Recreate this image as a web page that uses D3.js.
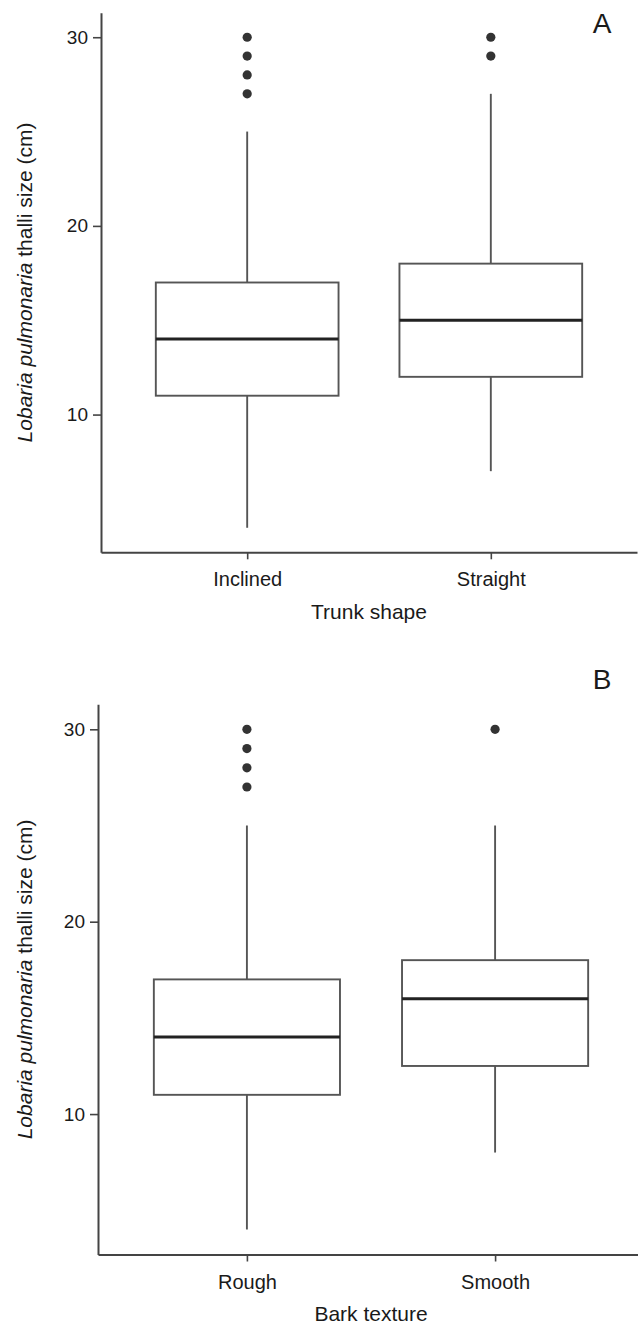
<!DOCTYPE html>
<html>
<head>
<meta charset="utf-8">
<script src="https://cdn.jsdelivr.net/npm/d3@7"></script>
<style>
  body { margin: 0; background: #fff; }
  text { font-family: 'Liberation Sans', Arial, sans-serif; fill: #1a1a1a; }
</style>
</head>
<body>
<div id="container"></div>
<script>
// Panel A: trunk shape
const trunkCats = ['Inclined', 'Straight'];
const trunkLow = [4, 7];
const trunkQ1 = [11, 12];
const trunkMedian = [14, 15];
const trunkQ3 = [17, 18];
const trunkHigh = [25, 27];
const trunkOutliers = [[27, 28, 29, 30], [29, 30]];

// Panel B: bark texture
const barkCats = ['Rough', 'Smooth'];
const barkLow = [4, 8];
const barkQ1 = [11, 12.5];
const barkMedian = [14, 16];
const barkQ3 = [17, 18];
const barkHigh = [25, 25];
const barkOutliers = [[27, 28, 29, 30], [30]];

const yTicks = [10, 20, 30];
const yDomain = [2.7, 31.3];

const w = 638;
const h = 1324;

const svg = d3.select('#container')
  .append('svg')
    .attr('width', w)
    .attr('height', h)
    .attr('viewBox', [0, 0, w, h]);

function drawPanel(box, cats, low, q1, med, q3, high, outliers, xTitle, tag) {
  const x = d3.scalePoint()
    .domain(cats)
    .range([box.left, box.right])
    .padding(0.6);

  const y = d3.scaleLinear()
    .domain(yDomain)
    .range([box.bottom, box.top]);

  const bw = x.step() * 0.75;
  const g = svg.append('g');

  const rows = cats.map((c, i) => ({
    cat: c, low: low[i], q1: q1[i], med: med[i], q3: q3[i], high: high[i], out: outliers[i]
  }));

  // axes
  const xAxis = g.append('g')
    .attr('transform', 'translate(0, ' + box.bottom + ')')
    .call(d3.axisBottom(x).tickSize(7).tickSizeOuter(0).tickPadding(13));

  const yAxis = g.append('g')
    .attr('transform', 'translate(' + box.left + ', 0)')
    .call(d3.axisLeft(y).tickValues(yTicks).tickSize(8).tickSizeOuter(0).tickPadding(5));

  [xAxis, yAxis].forEach(a => {
    a.select('.domain').attr('stroke', '#444').attr('stroke-width', 2);
    a.selectAll('.tick line').attr('stroke', '#444').attr('stroke-width', 1.6);
    a.selectAll('.tick text').style('font-size', '19px').attr('fill', '#1a1a1a');
  });
  xAxis.selectAll('.tick text').style('font-size', '20px');

  // whiskers
  const bx = g.selectAll('.box')
    .data(rows)
    .enter()
    .append('g');

  bx.append('line')
    .attr('x1', d => x(d.cat))
    .attr('x2', d => x(d.cat))
    .attr('y1', d => y(d.q3))
    .attr('y2', d => y(d.high))
    .attr('stroke', '#555')
    .attr('stroke-width', 1.9);

  bx.append('line')
    .attr('x1', d => x(d.cat))
    .attr('x2', d => x(d.cat))
    .attr('y1', d => y(d.q1))
    .attr('y2', d => y(d.low))
    .attr('stroke', '#555')
    .attr('stroke-width', 1.9);

  // boxes + median
  bx.append('rect')
    .attr('x', d => x(d.cat) - bw / 2)
    .attr('y', d => y(d.q3))
    .attr('width', bw)
    .attr('height', d => y(d.q1) - y(d.q3))
    .attr('fill', '#fff')
    .attr('stroke', '#555')
    .attr('stroke-width', 1.9);

  bx.append('line')
    .attr('x1', d => x(d.cat) - bw / 2)
    .attr('x2', d => x(d.cat) + bw / 2)
    .attr('y1', d => y(d.med))
    .attr('y2', d => y(d.med))
    .attr('stroke', '#222')
    .attr('stroke-width', 3);

  bx.selectAll('circle')
    .data(d => d.out.map(v => ({ cat: d.cat, v: v })))
    .enter()
    .append('circle')
    .attr('cx', d => x(d.cat))
    .attr('cy', d => y(d.v))
    .attr('r', 4.6)
    .attr('fill', '#333');

  // titles
  g.append('text')
    .attr('x', (box.left + box.right) / 2)
    .attr('y', box.bottom + 66.5)
    .attr('text-anchor', 'middle')
    .style('font-size', '21px')
    .text(xTitle);

  const yt = g.append('text')
    .attr('transform', 'rotate(-90)')
    .attr('x', -(box.top + box.bottom) / 2)
    .attr('y', 32)
    .attr('text-anchor', 'middle')
    .style('font-size', '21px');
  yt.append('tspan').style('font-style', 'italic').text('Lobaria pulmonaria');
  yt.append('tspan').text(' thalli size (cm)');

  g.append('text')
    .attr('x', 602)
    .attr('y', box.tag)
    .attr('text-anchor', 'middle')
    .style('font-size', '28px')
    .text(tag);
}

drawPanel({ left: 101, right: 637, top: 12.7, bottom: 552.3, tag: 33.3 },
  trunkCats, trunkLow, trunkQ1, trunkMedian, trunkQ3, trunkHigh, trunkOutliers, 'Trunk shape', 'A');

drawPanel({ left: 98, right: 644, top: 704.3, bottom: 1254.5, tag: 689 },
  barkCats, barkLow, barkQ1, barkMedian, barkQ3, barkHigh, barkOutliers, 'Bark texture', 'B');
</script>
</body>
</html>
